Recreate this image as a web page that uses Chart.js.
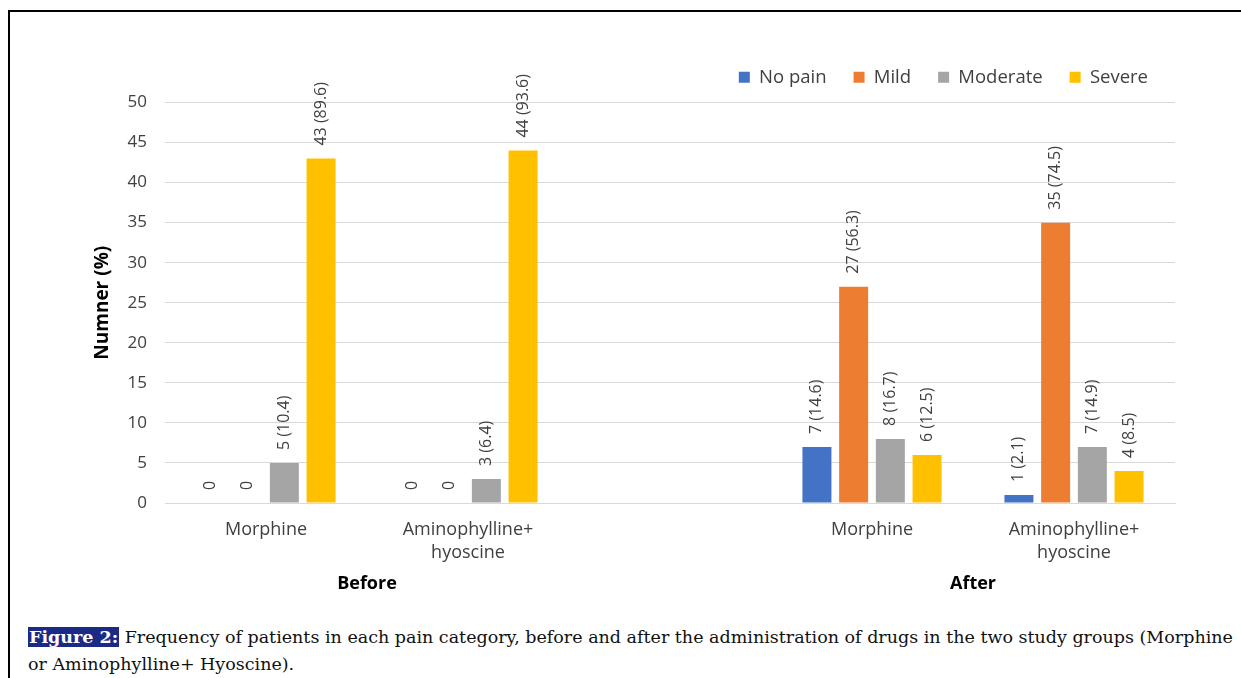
<!DOCTYPE html>
<html>
<head>
<meta charset="utf-8">
<script src="https://cdn.jsdelivr.net/npm/chart.js@4.4.0/dist/chart.umd.min.js"></script>
<style>
  body { margin: 0; background: #fff; width: 1241px; height: 678px; overflow: hidden; position: relative; }
  .frame { position: absolute; left: 8px; top: 10px; right: 0; bottom: 0; border-top: 2px solid #000; border-left: 2px solid #000; }
  .wrap { position: absolute; left: 10px; top: 12px; width: 1231px; height: 600px; }
  .caption { position: absolute; left: 28px; top: 624px; font-family: "DejaVu Serif", serif; font-size: 17px; line-height: 27px; color: #111; white-space: nowrap; }
  .caption .fig { background: #1c2a87; color: #fff; font-weight: bold; padding: 0 1px; }
</style>
</head>
<body>
<div class="frame"></div>
<div class="wrap"><canvas id="painChart"></canvas></div>
<div class="caption" id="caption"><span id="line1"><span class="fig">Figure 2:</span> Frequency of patients in each pain category, before and after the administration of drugs in the two study groups (Morphine</span><br>or Aminophylline+ Hyoscine).</div>
<script>
// ===== DATA =====
const categories = ['Morphine', ['Aminophylline+', 'hyoscine'], '', 'Morphine', ['Aminophylline+', 'hyoscine']];
const groupLabels = [
    { text: 'Before', from: 0, to: 1 },
    { text: 'After', from: 3, to: 4 }
];
const noPain   = [0, 0, null, 7, 1];
const mild     = [0, 0, null, 27, 35];
const moderate = [5, 3, null, 8, 7];
const severe   = [43, 44, null, 6, 4];
const noPainPct   = [null, null, null, 14.6, 2.1];
const mildPct     = [null, null, null, 56.3, 74.5];
const moderatePct = [10.4, 6.4, null, 16.7, 14.9];
const severePct   = [89.6, 93.6, null, 12.5, 8.5];
const yTicks = [0, 5, 10, 15, 20, 25, 30, 35, 40, 45, 50];

const FONT = '"Open Sans", "Liberation Sans", sans-serif';
const TEXT = '#404040';

// fit caption's first line to the figure width
(function fitCaption() {
    const cap = document.getElementById('caption');
    const w = document.getElementById('line1').getBoundingClientRect().width;
    const size = 17 * 1205 / w;
    cap.style.fontSize = size.toFixed(2) + 'px';
})();

// value labels above bars, rotated
const barLabels = {
    id: 'barLabels',
    afterDatasetsDraw(chart) {
        const ctx = chart.ctx;
        ctx.save();
        ctx.font = '16px ' + FONT;
        ctx.fillStyle = TEXT;
        ctx.textAlign = 'left';
        ctx.textBaseline = 'middle';
        chart.data.datasets.forEach((ds, di) => {
            const meta = chart.getDatasetMeta(di);
            meta.data.forEach((bar, i) => {
                const v = ds.data[i];
                if (v === null) return;
                const txt = v === 0 ? '0' : v + ' (' + ds.pct[i] + ')';
                ctx.save();
                ctx.translate(bar.x, bar.y - 13);
                ctx.rotate(-Math.PI / 2);
                ctx.fillText(txt, 0, 0);
                ctx.restore();
            });
        });
        ctx.restore();
    }
};

// "Before" / "After" under the category labels
const groupTitles = {
    id: 'groupTitles',
    afterDraw(chart) {
        const ctx = chart.ctx;
        const x = chart.scales.x;
        ctx.save();
        ctx.font = 'bold 18px ' + FONT;
        ctx.fillStyle = '#000';
        ctx.textAlign = 'center';
        ctx.textBaseline = 'middle';
        groupLabels.forEach(g => {
            const cx = (x.getPixelForValue(g.from) + x.getPixelForValue(g.to)) / 2;
            ctx.fillText(g.text, cx, 572);
        });
        ctx.restore();
    }
};

// a bit more room between legend and plot
const legendSpace = {
    id: 'legendSpace',
    beforeInit(chart) {
        const fit = chart.legend.fit;
        chart.legend.fit = function() {
            fit.bind(chart.legend)();
            this.height += 6;
        };
    }
};

function makeSet(label, data, pct, color) {
    return {
        label: label,
        data: data,
        pct: pct,
        backgroundColor: color,
        borderWidth: 0,
        barPercentage: 0.79,
        categoryPercentage: 0.727
    };
}

new Chart(document.getElementById('painChart'), {
    type: 'bar',
    data: {
        labels: categories,
        datasets: [
            makeSet('No pain', noPain, noPainPct, '#4472c4'),
            makeSet('Mild', mild, mildPct, '#ed7d31'),
            makeSet('Moderate', moderate, moderatePct, '#a5a5a5'),
            makeSet('Severe', severe, severePct, '#ffc000')
        ]
    },
    options: {
        responsive: true,
        maintainAspectRatio: false,
        animation: false,
        layout: { padding: { left: 81, right: 66, top: 29, bottom: 0 } },
        plugins: {
            legend: {
                position: 'top',
                align: 'end',
                labels: {
                    font: { family: FONT, size: 18.5 },
                    color: TEXT,
                    boxWidth: 11,
                    boxHeight: 11,
                    padding: 27
                }
            },
            tooltip: { enabled: false }
        },
        scales: {
            x: {
                grid: { display: false, drawTicks: false },
                border: { display: true, color: '#d9d9d9' },
                ticks: {
                    font: { family: FONT, size: 18, lineHeight: 1.3 },
                    color: TEXT,
                    padding: 15,
                    maxRotation: 0,
                    autoSkip: false
                },
                afterFit: (s) => { s.height = 109; }
            },
            y: {
                min: 0,
                max: 50,
                afterBuildTicks: (s) => { s.ticks = yTicks.map(v => ({ value: v })); },
                grid: { color: '#d9d9d9', drawTicks: false },
                border: { display: false },
                ticks: {
                    font: { family: FONT, size: 17 },
                    color: TEXT,
                    padding: 18
                },
                title: {
                    display: true,
                    text: 'Numner (%)',
                    font: { family: FONT, size: 19, weight: 'bold' },
                    color: '#000',
                    padding: { top: 0, bottom: 4 }
                },
                afterFit: (s) => { s.width = 74; }
            }
        }
    },
    plugins: [barLabels, groupTitles, legendSpace]
});
</script>
</body>
</html>
